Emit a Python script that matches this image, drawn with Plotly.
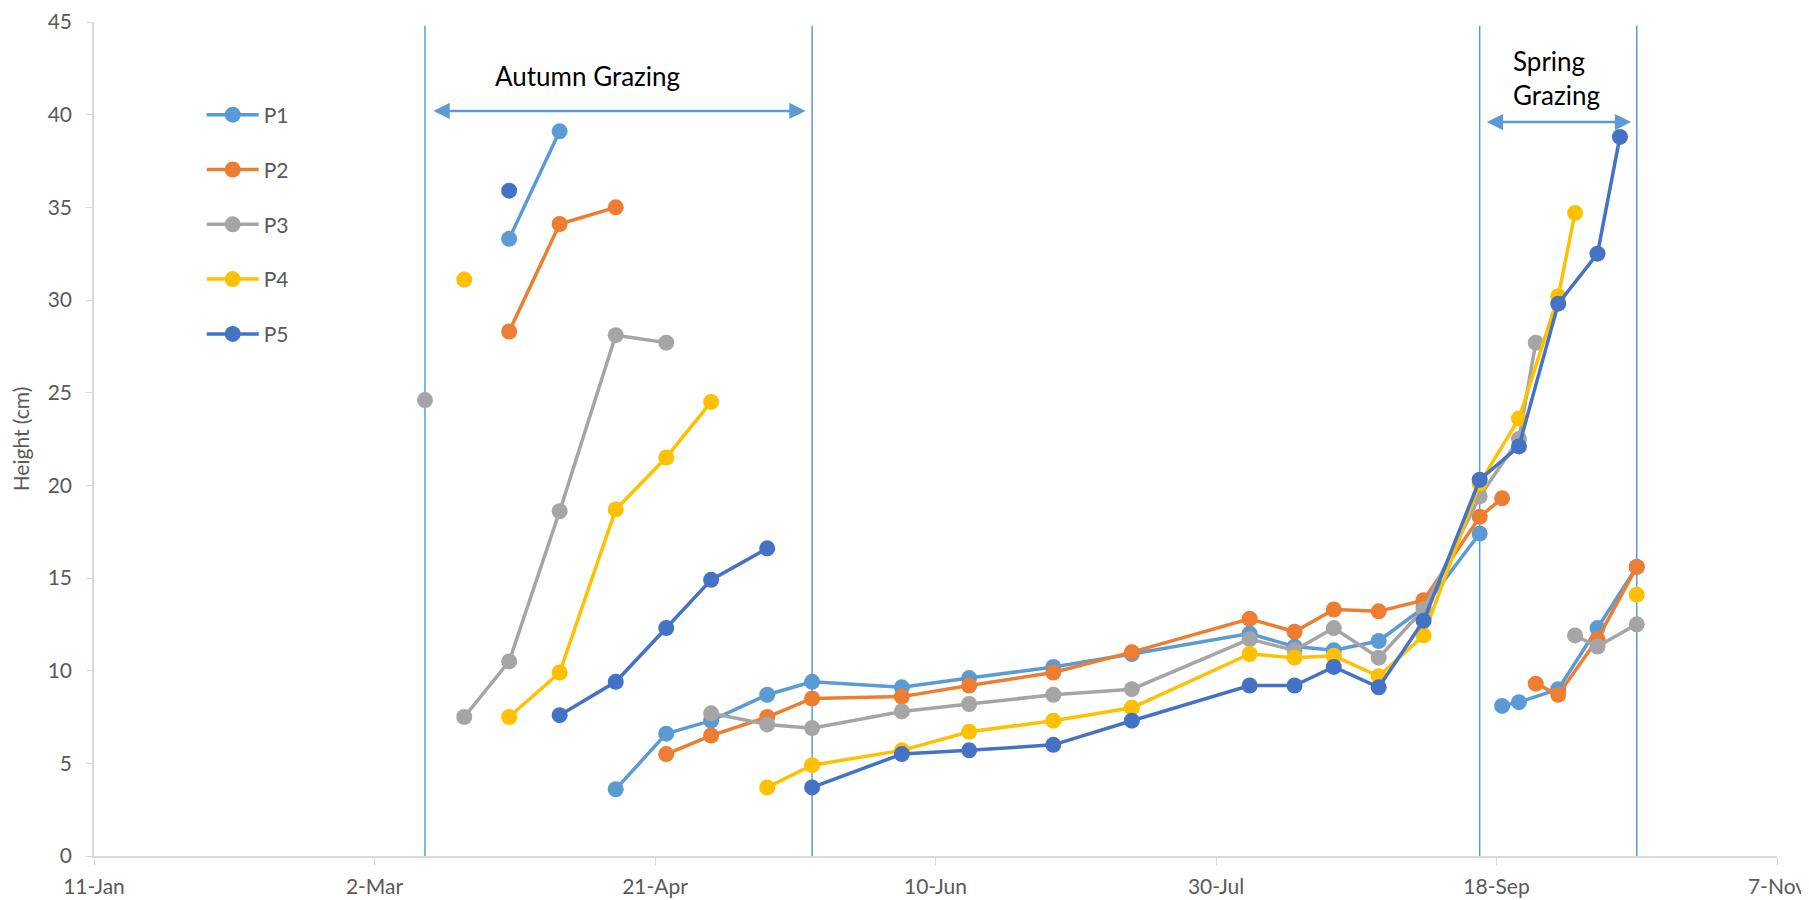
import plotly.graph_objects as go

# sample dates / pasture heights (cm); None marks a break in the line
p1_dates = ["2019-03-26", "2019-04-04", None, "2019-04-14", "2019-04-23", "2019-05-01", "2019-05-11",
            "2019-05-19", "2019-06-04", "2019-06-16", "2019-07-01", "2019-07-15", "2019-08-05",
            "2019-08-13", "2019-08-20", "2019-08-28", "2019-09-05", "2019-09-15", None,
            "2019-09-19", "2019-09-22", "2019-09-29", "2019-10-06", "2019-10-13"]
p1_height = [33.3, 39.1, None, 3.6, 6.6, 7.3, 8.7,
             9.4, 9.1, 9.6, 10.2, 10.9, 12.0,
             11.3, 11.1, 11.6, 13.4, 17.4, None,
             8.1, 8.3, 9.0, 12.3, 15.6]

p2_dates = ["2019-03-26", "2019-04-04", "2019-04-14", None, "2019-04-23", "2019-05-01", "2019-05-11",
            "2019-05-19", "2019-06-04", "2019-06-16", "2019-07-01", "2019-07-15", "2019-08-05",
            "2019-08-13", "2019-08-20", "2019-08-28", "2019-09-05", "2019-09-15", "2019-09-19", None,
            "2019-09-25", "2019-09-29", "2019-10-06", "2019-10-13"]
p2_height = [28.3, 34.1, 35.0, None, 5.5, 6.5, 7.5,
             8.5, 8.6, 9.2, 9.9, 11.0, 12.8,
             12.1, 13.3, 13.2, 13.8, 18.3, 19.3, None,
             9.3, 8.7, 11.7, 15.6]

p3_dates = ["2019-03-11", None, "2019-03-18", "2019-03-26", "2019-04-04", "2019-04-14", "2019-04-23", None,
            "2019-05-01", "2019-05-11", "2019-05-19", "2019-06-04", "2019-06-16", "2019-07-01",
            "2019-07-15", "2019-08-05", "2019-08-13", "2019-08-20", "2019-08-28", "2019-09-05",
            "2019-09-15", "2019-09-22", "2019-09-25", None, "2019-10-02", "2019-10-06", "2019-10-13"]
p3_height = [24.6, None, 7.5, 10.5, 18.6, 28.1, 27.7, None,
             7.7, 7.1, 6.9, 7.8, 8.2, 8.7,
             9.0, 11.7, 11.1, 12.3, 10.7, 13.3,
             19.4, 22.5, 27.7, None, 11.9, 11.3, 12.5]

p4_dates = ["2019-03-18", None, "2019-03-26", "2019-04-04", "2019-04-14", "2019-04-23", "2019-05-01", None,
            "2019-05-11", "2019-05-19", "2019-06-04", "2019-06-16", "2019-07-01", "2019-07-15",
            "2019-08-05", "2019-08-13", "2019-08-20", "2019-08-28", "2019-09-05", "2019-09-15",
            "2019-09-22", "2019-09-29", "2019-10-02", None, "2019-10-13"]
p4_height = [31.1, None, 7.5, 9.9, 18.7, 21.5, 24.5, None,
             3.7, 4.9, 5.7, 6.7, 7.3, 8.0,
             10.9, 10.7, 10.8, 9.7, 11.9, 20.1,
             23.6, 30.2, 34.7, None, 14.1]

p5_dates = ["2019-03-26", None, "2019-04-04", "2019-04-14", "2019-04-23", "2019-05-01", "2019-05-11", None,
            "2019-05-19", "2019-06-04", "2019-06-16", "2019-07-01", "2019-07-15", "2019-08-05",
            "2019-08-13", "2019-08-20", "2019-08-28", "2019-09-05", "2019-09-15", "2019-09-22",
            "2019-09-29", "2019-10-06", "2019-10-10"]
p5_height = [35.9, None, 7.6, 9.4, 12.3, 14.9, 16.6, None,
             3.7, 5.5, 5.7, 6.0, 7.3, 9.2,
             9.2, 10.2, 9.1, 12.7, 20.3, 22.1,
             29.8, 32.5, 38.8]

series_names = ["P1", "P2", "P3", "P4", "P5"]
colors = ["#5B9BD5", "#ED7D31", "#A5A5A5", "#FFC000", "#4472C4"]

# grazing periods (start, end) and the arrows drawn inside them
autumn_period = ["2019-03-11", "2019-05-19"]
spring_period = ["2019-09-15", "2019-10-13"]
autumn_arrow = ["2019-03-12 06:00", "2019-05-17 20:00"]
spring_arrow = ["2019-09-16", "2019-10-12"]

FONT = "Lato, 'Open Sans', sans-serif"
AXIS_GREY = "#D9D9D9"
TEXT_GREY = "#595959"

fig = go.Figure()
all_data = [(p1_dates, p1_height), (p2_dates, p2_height), (p3_dates, p3_height),
            (p4_dates, p4_height), (p5_dates, p5_height)]
for name, color, (xs, ys) in zip(series_names, colors, all_data):
    fig.add_trace(go.Scatter(
        x=xs, y=ys, name=name, legendgroup=name,
        mode="lines+markers", connectgaps=False,
        line=dict(color=color, width=3.5),
        marker=dict(color=color, size=16),
    ))

# vertical period boundaries
for d in autumn_period + spring_period:
    fig.add_shape(type="line", xref="x", yref="y", x0=d, x1=d, y0=0, y1=44.8,
                  line=dict(color="#5B9BD5", width=1.5), layer="below")

# double-headed arrows
for (a, b), yv in [(autumn_arrow, 40.2), (spring_arrow, 39.6)]:
    fig.add_annotation(x=b, y=yv, ax=a, ay=yv, xref="x", yref="y", axref="x", ayref="y",
                       text="", showarrow=True, arrowside="end+start", arrowhead=2,
                       arrowsize=1.3, arrowwidth=2.5, arrowcolor="#5B9BD5", standoff=0,
                       startstandoff=0)

fig.add_annotation(x="2019-04-09", y=42.1, xref="x", yref="y", text="Autumn Grazing",
                   showarrow=False, font=dict(family=FONT, size=26, color="black"))
fig.add_annotation(x="2019-09-20 12:00", y=42.0, xref="x", yref="y", text="Spring<br>Grazing",
                   showarrow=False, xanchor="left", align="left",
                   font=dict(family=FONT, size=26, color="black"))

# page body adds an 8px offset, so the figure is sized to fit the window
fig.update_layout(
    width=1801, height=892,
    paper_bgcolor="white", plot_bgcolor="white",
    margin=dict(l=86, r=32, t=14, b=44),
    font=dict(family=FONT, size=21, color=TEXT_GREY),
    legend=dict(x=0.064, y=0.913, xanchor="left", yanchor="top",
                bgcolor="rgba(0,0,0,0)", tracegroupgap=24.5, itemwidth=52,
                font=dict(family=FONT, size=21, color=TEXT_GREY)),
    showlegend=True,
)
fig.update_xaxes(
    type="date", range=["2019-01-11", "2019-11-07"], automargin=False,
    tick0="2019-01-11", dtick=50 * 86400000, tickformat="%-d-%b",
    showgrid=False, zeroline=False,
    showline=True, linecolor=AXIS_GREY, linewidth=1.5,
    ticks="outside", ticklen=7, tickcolor=AXIS_GREY, ticklabelstandoff=4,
)
fig.update_yaxes(
    range=[0, 45], dtick=5, showgrid=False, zeroline=False, automargin=False,
    showline=True, linecolor=AXIS_GREY, linewidth=1.5,
    ticks="outside", ticklen=6, tickcolor=AXIS_GREY, ticklabelstandoff=10,
    title=dict(text="Height (cm)", font=dict(family=FONT, size=21, color=TEXT_GREY), standoff=12),
)

fig.write_html("out.html")
